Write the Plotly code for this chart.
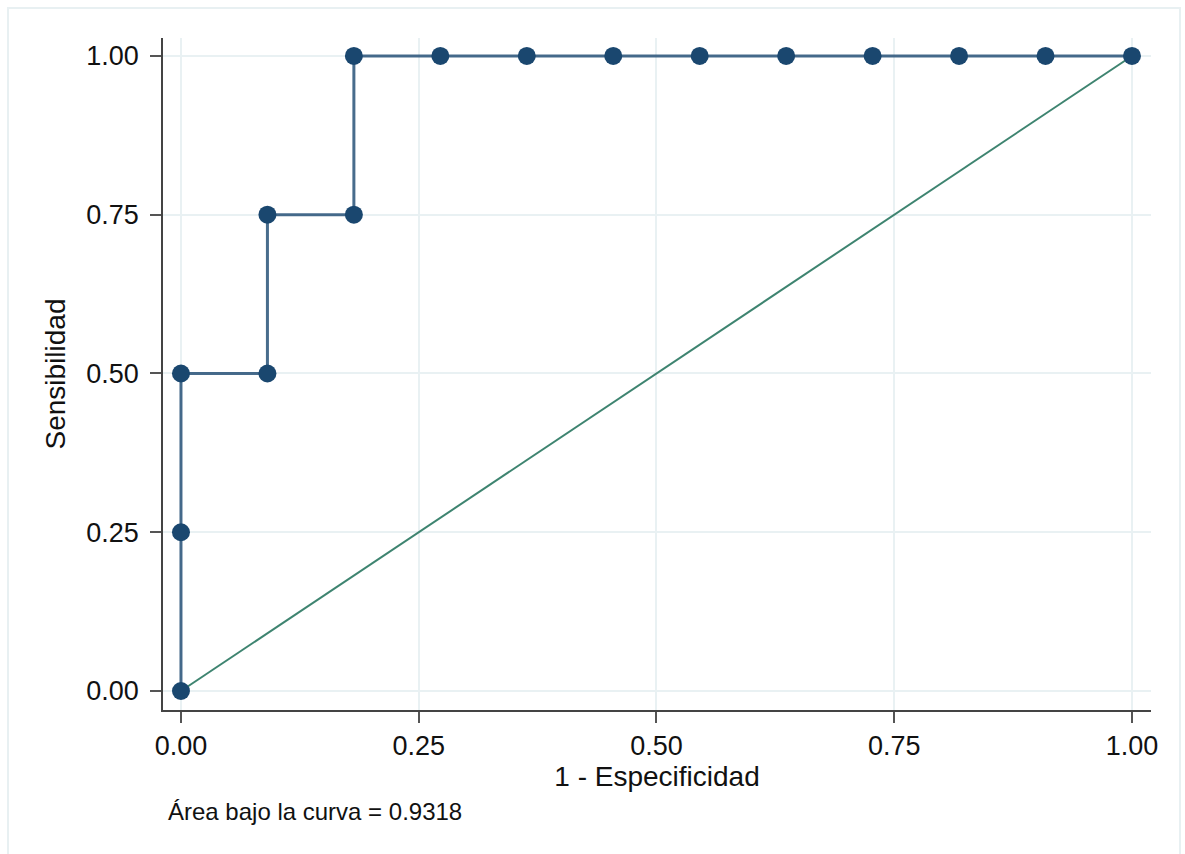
import plotly.graph_objects as go

# ROC curve data (1 - specificity, sensitivity)
fpr = [0.0, 0.0, 0.0, 1/11, 1/11, 2/11, 2/11, 3/11, 4/11, 5/11, 6/11, 7/11, 8/11, 9/11, 10/11, 1.0]
tpr = [0.0, 0.25, 0.50, 0.50, 0.75, 0.75, 1.0, 1.0, 1.0, 1.0, 1.0, 1.0, 1.0, 1.0, 1.0, 1.0]
ref_x = [0.0, 1.0]
ref_y = [0.0, 1.0]
tick_vals = [0.0, 0.25, 0.50, 0.75, 1.0]
tick_text = ["0.00", "0.25", "0.50", "0.75", "1.00"]
auc_text = "Área bajo la curva = 0.9318"

fig = go.Figure()
fig.add_trace(go.Scatter(
    x=ref_x, y=ref_y, mode="lines",
    line=dict(color="#3e8470", width=2), showlegend=False, hoverinfo="skip"))
fig.add_trace(go.Scatter(
    x=fpr, y=tpr, mode="lines+markers",
    line=dict(color="rgba(26,71,111,0.8)", width=3),
    marker=dict(color="#1a476f", size=18, line=dict(width=0)),
    showlegend=False))

W, H = 1185, 854
l, r, t, b = 163, 34, 38, 144
pw, ph = W - l - r, H - t - b

def px_x(p):
    return (p - l) / pw

def px_y(p):
    return (H - b - p) / ph

fig.update_layout(
    width=W, height=H,
    margin=dict(l=l, r=r, t=t, b=b, autoexpand=False),
    paper_bgcolor="white", plot_bgcolor="white",
    font=dict(family="Liberation Sans, Arial, sans-serif", color="#111111"),
    xaxis=dict(
        range=[-0.0189, 1.02], tickvals=tick_vals, ticktext=tick_text,
        showgrid=True, gridcolor="#e9f1f3", gridwidth=2,
        showline=True, linecolor="#444444", linewidth=1.5,
        ticks="outside", ticklen=11, tickcolor="#555555", tickwidth=1.5,
        tickfont=dict(size=27), zeroline=False,
        title=dict(text="1 - Especificidad", font=dict(size=28), standoff=1),
    ),
    yaxis=dict(
        range=[-0.0299, 1.0283], tickvals=tick_vals, ticktext=tick_text,
        showgrid=True, gridcolor="#e9f1f3", gridwidth=2,
        showline=True, linecolor="#444444", linewidth=1.5,
        ticks="outside", ticklen=11, tickcolor="#555555", tickwidth=1.5,
        tickfont=dict(size=27), zeroline=False, ticklabelstandoff=6,
        title=dict(text="Sensibilidad", font=dict(size=28), standoff=12),
    ),
    shapes=[dict(
        type="rect", xref="paper", yref="paper",
        x0=px_x(8), x1=px_x(1180), y0=px_y(880), y1=px_y(8),
        line=dict(color="#e8f0f2", width=2), fillcolor="rgba(0,0,0,0)", layer="below")],
    annotations=[dict(
        text=auc_text, xref="paper", yref="paper",
        x=px_x(166), y=px_y(811), xanchor="left", yanchor="middle",
        showarrow=False, font=dict(size=24, color="#111111"))],
)

fig.write_html("out.html")
